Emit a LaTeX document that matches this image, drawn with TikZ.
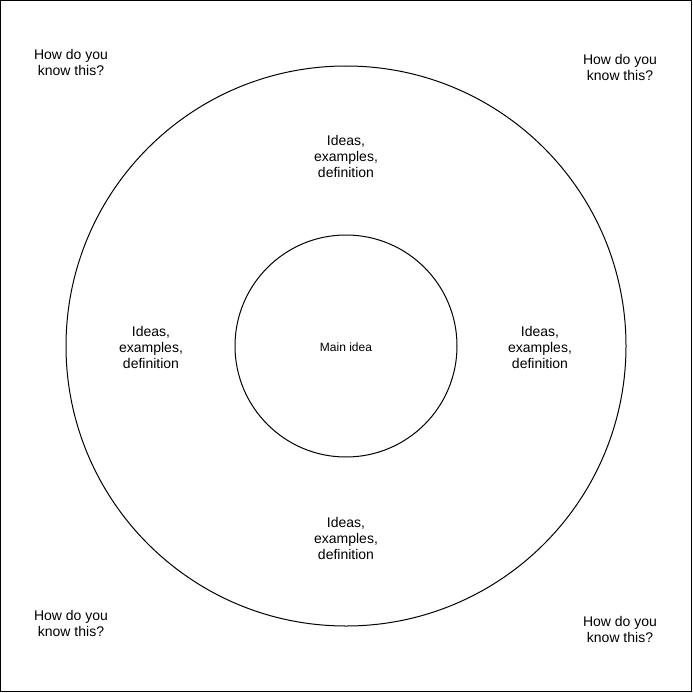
\documentclass[tikz,border=0pt]{standalone}
\usepackage{fontspec}
\setmainfont{Liberation Sans}
\begin{document}
\begin{tikzpicture}[x=1pt,y=-1pt,
  lbl/.style={align=center,inner sep=0pt,font=\fontsize{14}{16}\selectfont},
  mainlbl/.style={align=center,inner sep=0pt,font=\fontsize{12}{14}\selectfont},
  ring/.style={draw=black,line width=1pt}]
\useasboundingbox (0,0) rectangle (693,693);
\draw[line width=1pt] (0.5,0.5) rectangle (691.5,691.5);
\node[ring,circle,minimum size=560pt,inner sep=0pt] (outer) at (346,346) {};
\node[ring,circle,minimum size=222pt,inner sep=0pt] (inner) at (346,346) {};
\node[mainlbl] (main) at (346,347) {Main idea};
\node[lbl] (itop) at (346,156) {Ideas,\\examples,\\definition};
\node[lbl] (ileft) at (151,347) {Ideas,\\examples,\\definition};
\node[lbl] (iright) at (540,347) {Ideas,\\examples,\\definition};
\node[lbl] (ibot) at (346,538) {Ideas,\\examples,\\definition};
\node[lbl] (qtl) at (71,62) {How do you\\know this?};
\node[lbl] (qtr) at (620,67) {How do you\\know this?};
\node[lbl] (qbl) at (71,623) {How do you\\know this?};
\node[lbl] (qbr) at (620,629) {How do you\\know this?};
\end{tikzpicture}
\end{document}
